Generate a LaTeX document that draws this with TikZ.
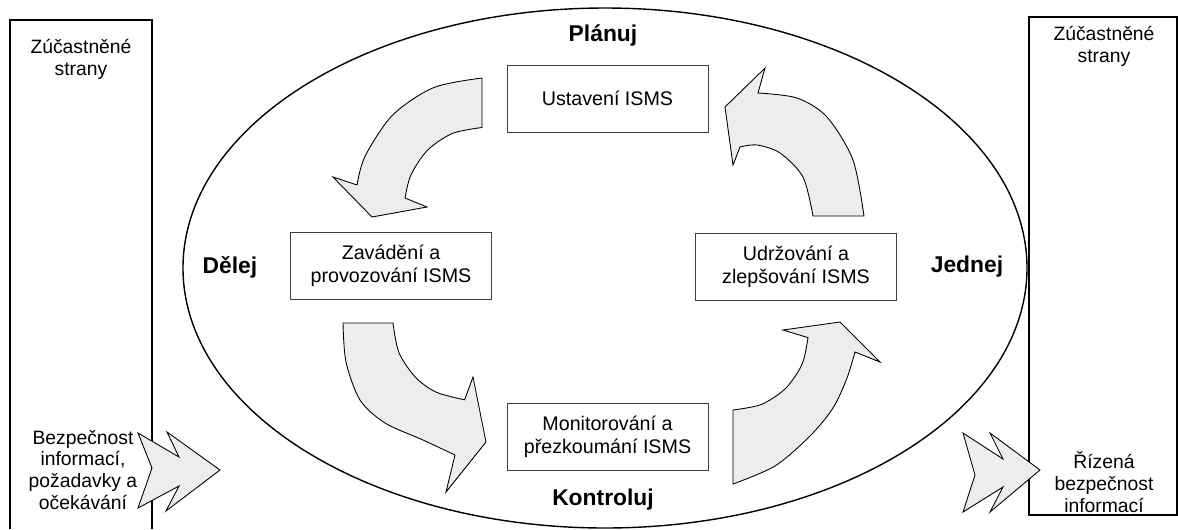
\documentclass[tikz,border=0pt]{standalone}
\usepackage{fontspec}
\setmainfont{Liberation Sans}
\begin{document}
\begin{tikzpicture}[x=0.02cm,y=-0.02cm,
  boxtxt/.style={draw=black!75, line width=0.5pt, minimum width=4.02cm, minimum height=1.34cm, align=center, font=\fontsize{11.2}{13}\selectfont, inner sep=0pt},
  phase/.style={font=\bfseries\fontsize{13}{15}\selectfont},
  side/.style={align=center, font=\fontsize{11}{12.5}\selectfont},
  blockarrow/.style={draw=black, line width=0.5pt, fill=black!7, line join=miter},
  frame/.style={draw=black, line width=0.8pt}
]
\useasboundingbox (0,0) rectangle (1178,529);
% ellipse
\draw[frame] (605,268) ellipse[x radius=422, y radius=260];
% side boxes
\draw[frame] (10,529) -- (10,20) -- (152,20) -- (152,529);
\draw[frame] (1029,17) rectangle (1177,515);
% process boxes
\node[boxtxt] (ustav) at (607.5,98.5) {Ustavení ISMS};
\node[boxtxt] (zavad) at (391,266) {Zavádění a\\provozování ISMS};
\node[boxtxt] (udrz) at (796,267) {Udržování a\\zlepšování ISMS};
\node[boxtxt] (monit) at (607.5,436.5) {Monitorování a\\přezkoumání ISMS};
% phase labels
\node[phase] (plan) at (603,35) {Plánuj};
\node[phase] (kontr) at (603,500) {Kontroluj};
\node[phase] (delej) at (230,267) {Dělej};
\node[phase] (jednej) at (967,267) {Jednej};
% side texts
\node[side] (zl) at (81,59) {Zúčastněné\\strany};
\node[side] (bl) at (83,470) {Bezpečnost\\informací,\\požadavky a\\očekávání};
\node[side] (zr) at (1104,46) {Zúčastněné\\strany};
\node[side] (br) at (1104,482) {Řízená\\bezpečnost\\informací};
% curved arrows
% A: plan -> do
\draw[blockarrow] (482,78) -- plot[smooth] coordinates {(482,78) (433.6,87.6) (392.6,115.1) (365.1,156.1) (357,185)}
  -- (333,177) -- (372,217) -- (427,207) -- (405,198)
  -- plot[smooth] coordinates {(405,198) (410.9,175) (427.6,150.1) (452.5,133.4) (482,127.5)} -- cycle;
% B: do -> check
\draw[blockarrow] (343,323) -- plot[smooth] coordinates {(343,323) (346,362) (360,400) (385,423) (423,440) (455,455)}
  -- (446,492) -- (486,442) -- (473,377) -- (464.6,399.8)
  -- plot[smooth] coordinates {(464.6,399.8) (436.3,392.2) (415.6,377.4) (398.9,352.5) (393,323)} -- cycle;
% C: act -> plan
\draw[blockarrow] (864,216) -- plot[smooth] coordinates {(864,216) (853,160) (827,117) (797,98) (758,93)}
  -- (765,68) -- (725,107) -- (733,165) -- (740,147)
  -- plot[smooth] coordinates {(740,147) (757,145) (780,153) (803,177) (813,216)} -- cycle;
% D: check -> act
\draw[blockarrow] (733,410) -- plot[smooth] coordinates {(733,410) (761.7,404.3) (786,388) (802.3,363.7) (808,337.6)}
  -- (783,330) -- (840,322) -- (880,362) -- (855,352)
  -- plot[smooth] coordinates {(855,352) (847,378) (833,408) (810,436) (775,466) (733,484)} -- cycle;
% input / output arrows
\draw[blockarrow] (138,433) -- (179,457) -- (167,432) -- (220,470) -- (166,511) -- (179,486) -- (138,508) -- (152,468) -- cycle;
\draw[blockarrow] (963,433) -- (1003,459) -- (990,433) -- (1040,470) -- (990,512) -- (1003,487) -- (963,512) -- (975,475) -- cycle;
\end{tikzpicture}
\end{document}
